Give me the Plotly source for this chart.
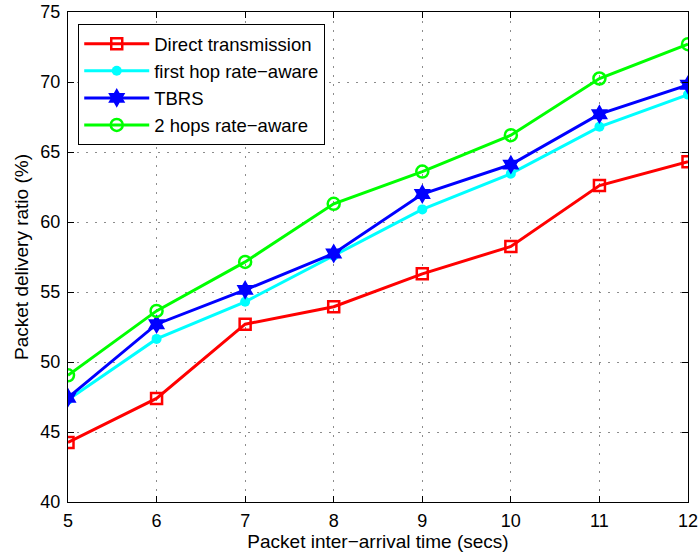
import plotly.graph_objects as go

x_vals = [5, 6, 7, 8, 9, 10, 11, 12]
direct = [44.25, 47.4, 52.7, 53.95, 56.3, 58.25, 62.6, 64.3]
first_hop = [47.3, 51.65, 54.3, 57.6, 60.9, 63.45, 66.8, 69.1]
tbrs = [47.45, 52.7, 55.15, 57.75, 62.0, 64.1, 67.7, 69.8]
two_hops = [49.05, 53.65, 57.15, 61.3, 63.6, 66.2, 70.25, 72.7]
y_ticks = [40, 45, 50, 55, 60, 65, 70, 75]

names = ["Direct transmission", "first hop rate\u2212aware", "TBRS", "2 hops rate\u2212aware"]

fig = go.Figure()
fig.add_trace(go.Scatter(x=x_vals, y=direct, name=names[0], mode="lines+markers",
                         line=dict(color="#ff0000", width=3),
                         marker=dict(symbol="square-open", size=11, color="#ff0000", line=dict(width=2.5))))
fig.add_trace(go.Scatter(x=x_vals, y=first_hop, name=names[1], mode="lines+markers",
                         line=dict(color="#00ffff", width=3),
                         marker=dict(symbol="circle", size=10, color="#00ffff")))
fig.add_trace(go.Scatter(x=x_vals, y=tbrs, name=names[2], mode="lines+markers",
                         line=dict(color="#0000ff", width=3),
                         marker=dict(symbol="hexagram", size=15, color="#0000ff")))
fig.add_trace(go.Scatter(x=x_vals, y=two_hops, name=names[3], mode="lines+markers",
                         line=dict(color="#00ff00", width=3),
                         marker=dict(symbol="circle-open", size=12, color="#00ff00", line=dict(width=2.5))))

font_family = "Liberation Sans, Arial, sans-serif"
axis_common = dict(
    showline=True, linecolor="black", linewidth=1, mirror="allticks",
    ticks="inside", ticklen=6, tickcolor="black",
    showgrid=True, gridcolor="#8c8c8c", griddash="2px,7px", gridwidth=1,
    zeroline=False, tickfont=dict(size=18, color="black", family=font_family),
    automargin=False,
)

fig.update_xaxes(range=[5, 12], tickvals=x_vals, ticklabelstandoff=2,
                 title=dict(text="Packet inter\u2212arrival time (secs)",
                            font=dict(size=19, color="black", family=font_family), standoff=2),
                 **axis_common)
fig.update_yaxes(range=[40, 75], tickvals=y_ticks, ticklabelstandoff=3,
                 title=dict(text="Packet delivery ratio (%)",
                            font=dict(size=19, color="black", family=font_family), standoff=6),
                 **axis_common)

fig.update_layout(
    width=699, height=557,
    margin=dict(l=67.5, r=10.7, t=12, b=55),
    paper_bgcolor="white", plot_bgcolor="white",
    font=dict(family=font_family, size=19, color="black"),
    showlegend=True,
    legend=dict(x=0.0165, y=0.975, xanchor="left", yanchor="top",
                bgcolor="white", bordercolor="black", borderwidth=1,
                font=dict(size=18.5, color="black", family=font_family),
                tracegroupgap=0, itemwidth=65),
)

fig.write_html("out.html", post_script="document.body.style.margin='0px';",
               config={"displayModeBar": False})
